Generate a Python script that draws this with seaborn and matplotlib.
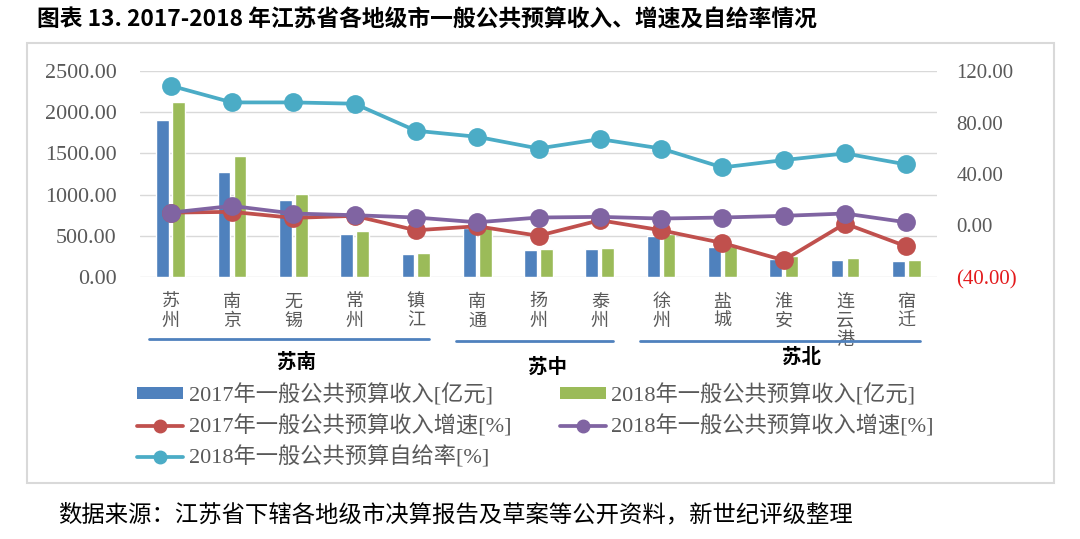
import numpy as np
import pandas as pd
import matplotlib
matplotlib.use("Agg")
import matplotlib.pyplot as plt
import seaborn as sns
from matplotlib.patches import Patch, Rectangle
from matplotlib.lines import Line2D
from matplotlib.ticker import FuncFormatter

# ==================================================
# DATA
# ==================================================

cities = ["苏州", "南京", "无锡", "常州", "镇江", "南通", "扬州",
          "泰州", "徐州", "盐城", "淮安", "连云港", "宿迁"]

revenue_2017 = [1904, 1276, 932, 519, 280, 590, 324,
                336, 494, 365, 223, 211, 194]
revenue_2018 = [2119, 1463, 1005, 563, 296, 620, 336,
                348, 527, 375, 255, 235, 211]

growth_2017 = [10.0, 10.6, 5.9, 7.5, -3.7, -0.6, -8.0,
               4.1, -3.7, -13.6, -27.0, 1.5, -16.2]
growth_2018 = [10.0, 15.2, 9.3, 8.0, 6.2, 2.5, 6.2,
               6.7, 5.4, 6.2, 7.5, 9.3, 2.5]
self_ratio_2018 = [108.6, 95.6, 95.6, 94.6, 73.6, 68.9, 59.8,
                   67.1, 59.8, 45.1, 50.8, 56.0, 47.4]

regions = [("苏南", 0, 4), ("苏中", 5, 7), ("苏北", 8, 12)]

bar_labels = ["2017年一般公共预算收入[亿元]", "2018年一般公共预算收入[亿元]"]
line_labels = ["2017年一般公共预算收入增速[%]", "2018年一般公共预算收入增速[%]",
               "2018年一般公共预算自给率[%]"]

title = "图表 13. 2017-2018 年江苏省各地级市一般公共预算收入、增速及自给率情况"
source = "数据来源：江苏省下辖各地级市决算报告及草案等公开资料，新世纪评级整理"

# ==================================================
# STYLE
# ==================================================

BLUE = "#4F81BD"
GREEN = "#9BBB59"
RED = "#C0504D"
PURPLE = "#8064A2"
CYAN = "#4BACC6"
GRAY = "#595959"

sns.set_style("white")
plt.rcParams["font.family"] = ["Liberation Serif", "Noto Sans CJK SC", "DejaVu Sans"]

bar_df = pd.DataFrame({
    "city": cities * 2,
    "value": revenue_2017 + revenue_2018,
    "series": [bar_labels[0]] * len(cities) + [bar_labels[1]] * len(cities),
})

line_df = pd.DataFrame({
    "city": cities * 3,
    "value": growth_2017 + growth_2018 + self_ratio_2018,
    "series": ([line_labels[0]] * len(cities) + [line_labels[1]] * len(cities)
               + [line_labels[2]] * len(cities)),
})

# ==================================================
# FIGURE
# ==================================================

fig = plt.figure(figsize=(10.8, 5.39), dpi=100)
ax = fig.add_axes([140 / 1080, 1 - 277 / 539, 797 / 1080, 206 / 539])

sns.barplot(
    data=bar_df, x="city", y="value", hue="series", order=cities,
    hue_order=bar_labels, palette=[BLUE, GREEN], width=0.52, gap=0.2,
    saturation=1, legend=False, ax=ax
)

ax.set_ylim(0, 2500)
ax.set_yticks(np.arange(0, 2501, 500))
ax.yaxis.set_major_formatter(FuncFormatter(lambda v, p: f"{v:.2f}"))
ax.grid(axis="y", color="#d9d9d9", linewidth=1.0)
ax.set_axisbelow(True)
ax.set_xlabel("")
ax.set_ylabel("")
ax.set_xticks(range(len(cities)))
ax.set_xticklabels(["\n".join(c) for c in cities], color=GRAY,
                   fontsize=13, linespacing=1.15)
ax.tick_params(axis="x", length=0, pad=12)
ax.tick_params(axis="y", length=0, pad=17, labelsize=15.8, labelcolor=GRAY)
for s in ax.spines.values():
    s.set_visible(False)

ax2 = ax.twinx()
sns.pointplot(
    data=line_df, x="city", y="value", hue="series", order=cities,
    hue_order=line_labels, palette=[RED, PURPLE, CYAN], markers="o",
    linestyles="-", dodge=False, errorbar=None, markersize=11.5,
    linewidth=2.7, legend=False, ax=ax2
)
ax2.set_ylim(-40, 120)
ax2.set_yticks(np.arange(-40, 121, 40))
ax2.yaxis.set_major_formatter(
    FuncFormatter(lambda v, p: f"({abs(v):.2f})" if v < 0 else f"{v:.2f}"))
ax2.set_xlabel("")
ax2.set_ylabel("")
ax2.tick_params(axis="y", length=0, pad=14, labelsize=15, labelcolor=GRAY)
for lab in ax2.get_yticklabels():
    if lab.get_text().startswith("("):
        lab.set_color("#E31A1C")
for s in ax2.spines.values():
    s.set_visible(False)
ax2.set_xlim(ax.get_xlim())

# region brackets under the city names
trans = ax.get_xaxis_transform()
region_line_y = [-0.301, -0.311, -0.311]
region_text_pos = [(2.06, -0.413), (6.14, -0.437), (10.29, -0.388)]
for (name, i0, i1), ly, (tx, ty) in zip(regions, region_line_y, region_text_pos):
    ax.plot([i0 - 0.35, i1 + 0.22], [ly, ly], color=BLUE, linewidth=2,
            transform=trans, clip_on=False)
    ax.text(tx, ty, name, transform=trans, ha="center", va="center",
            fontsize=14, fontweight="bold", color="black",
            family=["Noto Sans CJK SC", "DejaVu Sans"])

# legend
handles = [
    Patch(facecolor=BLUE, edgecolor="none"),
    Line2D([], [], color=RED, marker="o", linewidth=2.7, markersize=9),
    Line2D([], [], color=CYAN, marker="o", linewidth=2.7, markersize=9),
    Patch(facecolor=GREEN, edgecolor="none"),
    Line2D([], [], color=PURPLE, marker="o", linewidth=2.7, markersize=9),
]
labels = [bar_labels[0], line_labels[0], line_labels[2], bar_labels[1], line_labels[1]]
leg = fig.legend(
    handles, labels, ncol=2, loc="upper left",
    bbox_to_anchor=(137 / 1080, 1 - 384 / 539), frameon=False,
    fontsize=16, handlelength=2.07, handleheight=0.45, handletextpad=0.25,
    labelspacing=0.4, columnspacing=2.2, borderpad=0, borderaxespad=0
)
for t in leg.get_texts():
    t.set_color(GRAY)

# outer frame
fig.patches.append(Rectangle((27 / 1080, 1 - 483 / 539), 1027 / 1080, 440 / 539,
                             transform=fig.transFigure, fill=False,
                             edgecolor="#d9d9d9", linewidth=1.5))

fig.text(37 / 1080, 1 - 20 / 539, title, ha="left", va="center",
         fontsize=16.4, fontweight="bold", color="black",
         family=["Noto Sans CJK SC", "DejaVu Sans"])
fig.text(58 / 1080, 1 - 515 / 539, source, ha="left", va="center",
         fontsize=16.8, color="black",
         family=["Noto Sans CJK SC", "DejaVu Sans"])

fig.savefig("out.png", dpi=100)
